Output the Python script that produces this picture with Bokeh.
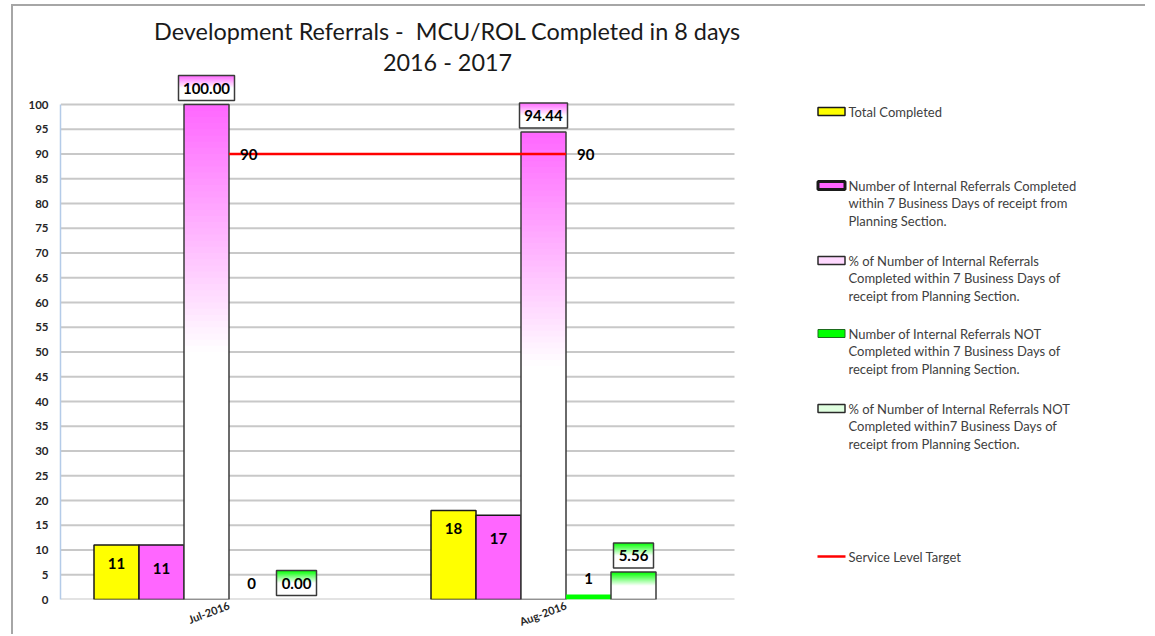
from bokeh.plotting import figure
from bokeh.models import Range1d, FixedTicker
from bokeh.core.properties import value
from bokeh.embed import file_html
from bokeh.resources import INLINE

# ---------------- data ----------------
months = ["Jul-2016", "Aug-2016"]
total_completed = [11, 18]
within7 = [11, 17]
pct_within7 = [100.00, 94.44]
not_within7 = [0, 1]
pct_not_within7 = [0.00, 5.56]
service_target = [90, 90]
y_ticks = list(range(0, 101, 5))

title_lines = ["Development Referrals -\u00a0 MCU/ROL Completed in 8 days", "2016 - 2017"]
legend_labels = [
    ["Total Completed"],
    ["Number of Internal Referrals Completed", "within 7 Business Days of receipt from", "Planning Section."],
    ["% of Number of Internal Referrals", "Completed within 7 Business Days of", "receipt from Planning Section."],
    ["Number of Internal Referrals NOT", "Completed within 7 Business Days of", "receipt from Planning Section."],
    ["% of Number of Internal Referrals NOT", "Completed within7 Business Days of", "receipt from Planning Section."],
    ["Service Level Target"],
]

# ---------------- layout constants (pixels) ----------------
FONT = "Lato"
ORG_X, ORG_Y = 13, 6          # page position of the figure canvas (margin + border)
W, H = 1134, 630
MB_L, MB_R, MB_T, MB_B = 47, 5, 5, 37
FRAME_LEFT = ORG_X + MB_L
FRAME_BOTTOM = ORG_Y + H - MB_B
FRAME_W = W - MB_L - MB_R
FRAME_H = H - MB_T - MB_B
PX_X = 337.0   # pixels per category
PX_Y = 4.95    # pixels per value unit
X0 = -0.5
X1 = X0 + FRAME_W / PX_X
Y1 = FRAME_H / PX_Y

def dx(px):
    return X0 + (px - FRAME_LEFT) / PX_X

def dy(py):
    return (FRAME_BOTTOM - py) / PX_Y

def blend(rgb, frac):
    r, g, b = [int(round(255 + (c - 255) * frac)) for c in rgb]
    return "#%02x%02x%02x" % (r, g, b)

p = figure(width=W, height=H, x_range=Range1d(X0, X1), y_range=Range1d(0, Y1),
           output_backend="svg", toolbar_location=None,
           min_border_left=MB_L, min_border_right=MB_R, min_border_top=MB_T, min_border_bottom=MB_B)
p.xgrid.visible = False
p.ygrid.visible = False
p.outline_line_color = None
p.background_fill_color = "white"
p.border_fill_color = "white"

# y axis
yax = p.yaxis[0]
yax.ticker = FixedTicker(ticks=y_ticks)
yax.bounds = (0, 100)
yax.axis_line_color = "#b4cbe8"
yax.axis_line_width = 1.5
yax.major_tick_line_color = None
yax.minor_tick_line_color = None
yax.major_tick_out = 0
yax.major_tick_in = 0
yax.minor_tick_out = 0
yax.major_label_text_font = FONT
yax.major_label_text_font_style = "bold"
yax.major_label_text_font_size = "11.5px"
yax.major_label_text_color = "#262626"
yax.major_label_standoff = 12

# x axis
xax = p.xaxis[0]
cats = list(range(len(months)))
xax.ticker = FixedTicker(ticks=cats)
xax.major_label_overrides = {c: m for c, m in zip(cats, months)}
xax.major_label_orientation = 0.36
xax.axis_line_color = None
xax.major_tick_line_color = None
xax.minor_tick_line_color = None
xax.major_tick_out = 0
xax.major_tick_in = 0
xax.minor_tick_out = 0
xax.major_label_text_font = FONT
xax.major_label_text_font_style = "bold"
xax.major_label_text_font_size = "11px"
xax.major_label_text_color = "#262626"
xax.major_label_standoff = 5

# gridlines across the category bands only
p.segment(x0=[X0 + 0.001] * len(y_ticks), x1=[X0 + len(months)] * len(y_ticks),
          y0=y_ticks, y1=y_ticks, line_color="#c8c8c8", line_width=2)

# bar slots
BW = 45.0 / PX_X
def slot(i):
    return [c + (i - 2.5) * BW for c in cats]

YEL = (255, 255, 0)
MAG = (255, 102, 255)
GRN = (0, 255, 0)

def gradient_quads(xs, widths, bottoms, tops, rgb, n=40):
    # layered strips: each one runs to the top, later (darker) ones cover earlier ones
    L, R, B, T, C = [], [], [], [], []
    for x, w, b0, t0 in zip(xs, widths, bottoms, tops):
        mid = (b0 + t0) / 2.0
        h = (t0 - mid) / n
        if h <= 0:
            continue
        for k in range(n):
            L.append(x - w / 2)
            R.append(x + w / 2)
            B.append(mid + k * h)
            T.append(t0)
            C.append(blend(rgb, (k + 0.5) / n))
    p.quad(left=L, right=R, bottom=B, top=T, fill_color=C, line_color=None)

# Total Completed
p.vbar(x=slot(0), top=total_completed, width=BW, fill_color=blend(YEL, 1), line_color="#1a1a1a", line_width=1.5)
# Number completed within 7 days
p.vbar(x=slot(1), top=within7, width=BW, fill_color=blend(MAG, 1), line_color="#1a1a1a", line_width=1.5)
# % completed within 7 days (gradient)
p.vbar(x=slot(2), top=pct_within7, width=BW, fill_color="white", line_color=None)
gradient_quads(slot(2), [BW] * 2, [0, 0], pct_within7, MAG)
p.vbar(x=slot(2), top=pct_within7, width=BW, fill_color=None, line_color="#3a3a3a", line_width=1.5)
# Number NOT completed
p.vbar(x=slot(3), top=not_within7, width=BW, fill_color=blend(GRN, 1), line_color=None)
# % NOT completed (gradient)
p.vbar(x=slot(4), top=pct_not_within7, width=BW, fill_color="white", line_color=None)
gradient_quads(slot(4), [BW] * 2, [0, 0], pct_not_within7, GRN)
p.vbar(x=[x for x, v in zip(slot(4), pct_not_within7) if v > 0],
       top=[v for v in pct_not_within7 if v > 0], width=BW,
       fill_color=None, line_color="#3a3a3a", line_width=1.5)

# Service level target line
p.line(x=cats, y=service_target, line_color="#ff0000", line_width=2.5)

def text(xs, ys, ts, size="15px", style="bold", align="center", color="#000000", baseline="middle"):
    p.text(x=xs, y=ys, text=ts, text_font=value(FONT), text_font_size=size,
           text_font_style=style, text_align=align, text_baseline=baseline, text_color=color)

# data labels
text(slot(0), [v - 18 / PX_Y for v in total_completed], [str(v) for v in total_completed])
text(slot(1), [v - 23 / PX_Y for v in within7], [str(v) for v in within7])
text(slot(3), [v + 16 / PX_Y for v in not_within7], [str(v) for v in not_within7])
text([c + 11 / PX_X for c in cats], service_target, [str(v) for v in service_target], align="left")

def boxed_labels(xs, vals, rgb):
    labels = ["%.2f" % v for v in vals]
    widths = [(8 * len(s) + 8) / PX_X for s in labels]
    bottoms = [v + 4 / PX_Y for v in vals]
    tops = [b + 25 / PX_Y for b in bottoms]
    p.quad(left=[x - w / 2 for x, w in zip(xs, widths)], right=[x + w / 2 for x, w in zip(xs, widths)],
           bottom=bottoms, top=tops, fill_color="white", line_color=None)
    gradient_quads(xs, widths, bottoms, tops, rgb, n=12)
    p.quad(left=[x - w / 2 for x, w in zip(xs, widths)], right=[x + w / 2 for x, w in zip(xs, widths)],
           bottom=bottoms, top=tops, fill_color=None, line_color="#3a3a3a", line_width=1.5)
    text(xs, [(b + t) / 2 for b, t in zip(bottoms, tops)], labels)

boxed_labels(slot(2), pct_within7, MAG)
boxed_labels(slot(4), pct_not_within7, GRN)

# title
text([dx(447)] * 2, [dy(30), dy(61)], title_lines, size="23.4px", style="normal", color="#1a1a1a")

# legend (drawn manually)
LEG_Y = [111, 185, 260, 333, 408, 556]
LEG_LINE = 17.5
sw_x = dx(831)
swatches = [
    dict(fill=blend(YEL, 1), line="#1a1a1a", lw=1.5),
    dict(fill=blend(MAG, 1), line="#1a1a1a", lw=3),
    dict(fill=blend(MAG, 0.25), line="#2a2a2a", lw=1.5),
    dict(fill=blend(GRN, 1), line="#1d6b1d", lw=1),
    dict(fill=blend(GRN, 0.12), line="#2a2a2a", lw=1.5),
]
for i, sw in enumerate(swatches):
    p.rect(x=[sw_x], y=[dy(LEG_Y[i])], width=27, height=8, width_units="screen", height_units="screen",
           fill_color=sw["fill"], line_color=sw["line"], line_width=sw["lw"])
p.segment(x0=[dx(817)], x1=[dx(845)], y0=[dy(LEG_Y[5])], y1=[dy(LEG_Y[5])], line_color="#ff0000", line_width=2.5)

lx, ly, lt = [], [], []
for i, lines in enumerate(legend_labels):
    for j, s in enumerate(lines):
        lx.append(dx(848))
        ly.append(dy(LEG_Y[i] + j * LEG_LINE))
        lt.append(s)
text(lx, ly, lt, size="13px", style="normal", align="left", color="#404040")

p.styles = {"margin-top": "4px", "margin-left": "11px",
            "border-top": "2px solid #a6a6a6", "border-left": "2px solid #a6a6a6"}

open("out.html", "w").write(file_html(p, INLINE))
